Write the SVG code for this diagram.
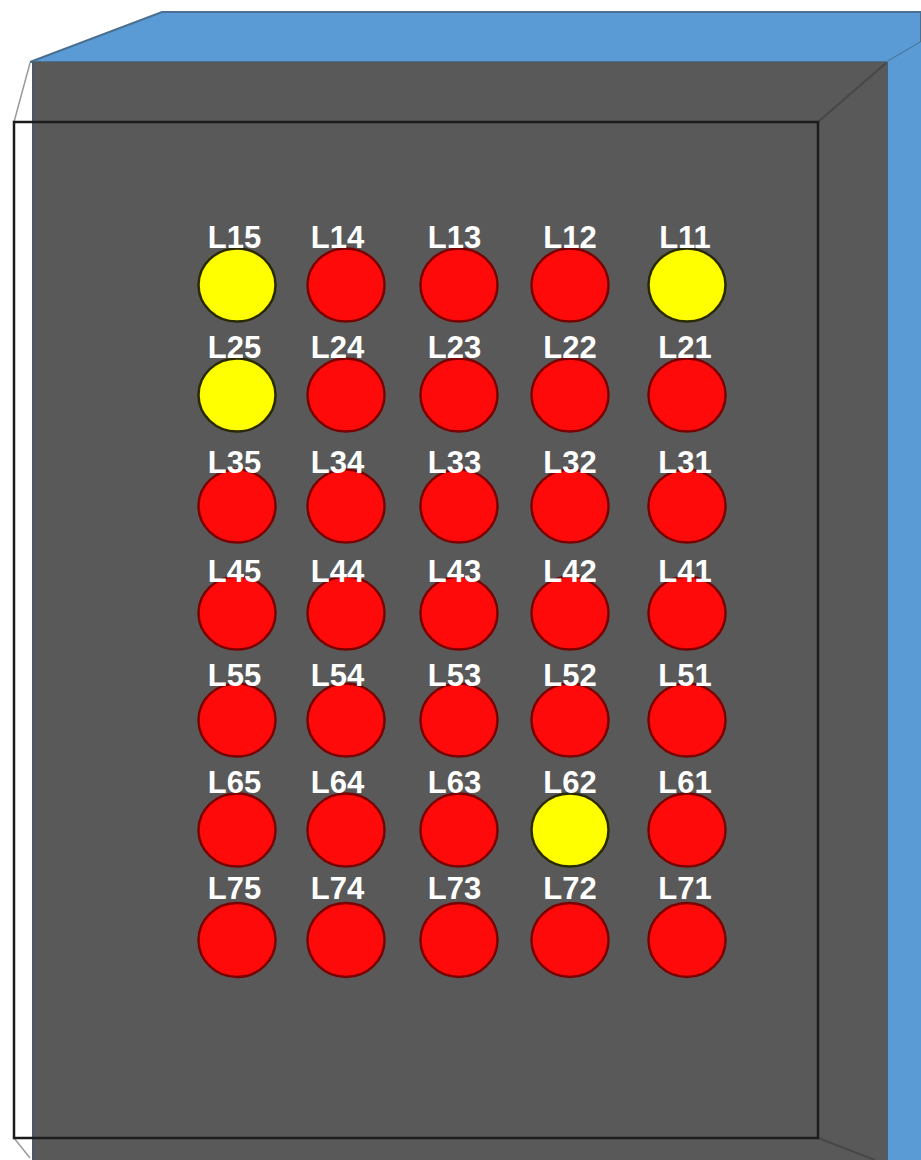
<svg xmlns="http://www.w3.org/2000/svg" width="921" height="1160" viewBox="0 0 921 1160">
  <defs>
    <style>
      .lbl { font-family: "Liberation Sans", Arial, sans-serif; font-weight: bold; font-size: 31px; fill: #ffffff; text-anchor: middle; }
      .red { fill: #ff0a0a; stroke: #7a0000; stroke-width: 2.5; }
      .yel { fill: #ffff00; stroke: #2a2a00; stroke-width: 2.5; }
      .edge { fill: none; stroke: #474747; stroke-width: 2; }
    </style>
  </defs>
  <rect x="0" y="0" width="921" height="1160" fill="#ffffff"/>
  <g id="cabinet">
    <polygon points="30,62 162,12 921,12 921,42 887,62" fill="#5b9bd5" stroke="#4a6f90" stroke-width="2"/>
    <polygon points="887,62 921,42 921,1160 887,1160" fill="#5b9bd5"/>
    <line x1="887" y1="62" x2="887" y2="1160" stroke="#3f5f80" stroke-width="2"/>
    <rect x="32" y="62" width="855" height="1098" fill="#595959"/>
    <line x1="33" y1="62" x2="33" y2="1160" stroke="#4c5866" stroke-width="2"/>
    <line class="edge" x1="818" y1="122" x2="886" y2="63"/>
    <line class="edge" x1="818" y1="1138" x2="875" y2="1160"/>
    <line x1="14" y1="122" x2="30" y2="63" stroke="#9a9a9a" stroke-width="1.5"/>
    <line x1="14" y1="1138" x2="30" y2="1158" stroke="#9a9a9a" stroke-width="1.5"/>
    <rect x="14" y="122" width="804" height="1016" fill="none" stroke="#1c1c1c" stroke-width="2.5"/>
  </g>
  <g id="lamps">
    <g id="L15"><ellipse class="yel" cx="237" cy="285" rx="38.5" ry="36.5"/><text class="lbl" x="234.5" y="248">L15</text></g>
    <g id="L14"><ellipse class="red" cx="346" cy="285" rx="38.5" ry="36.5"/><text class="lbl" x="337.5" y="248">L14</text></g>
    <g id="L13"><ellipse class="red" cx="459" cy="285" rx="38.5" ry="36.5"/><text class="lbl" x="454.5" y="248">L13</text></g>
    <g id="L12"><ellipse class="red" cx="570" cy="285" rx="38.5" ry="36.5"/><text class="lbl" x="570" y="248">L12</text></g>
    <g id="L11"><ellipse class="yel" cx="687" cy="285" rx="38.5" ry="36.5"/><text class="lbl" x="685" y="248">L11</text></g>

    <g id="L25"><ellipse class="yel" cx="237" cy="395" rx="38.5" ry="36.5"/><text class="lbl" x="234.5" y="358">L25</text></g>
    <g id="L24"><ellipse class="red" cx="346" cy="395" rx="38.5" ry="36.5"/><text class="lbl" x="337.5" y="358">L24</text></g>
    <g id="L23"><ellipse class="red" cx="459" cy="395" rx="38.5" ry="36.5"/><text class="lbl" x="454.5" y="358">L23</text></g>
    <g id="L22"><ellipse class="red" cx="570" cy="395" rx="38.5" ry="36.5"/><text class="lbl" x="570" y="358">L22</text></g>
    <g id="L21"><ellipse class="red" cx="687" cy="395" rx="38.5" ry="36.5"/><text class="lbl" x="685" y="358">L21</text></g>

    <g id="L35"><ellipse class="red" cx="237" cy="506" rx="38.5" ry="36.5"/><text class="lbl" x="234.5" y="473">L35</text></g>
    <g id="L34"><ellipse class="red" cx="346" cy="506" rx="38.5" ry="36.5"/><text class="lbl" x="337.5" y="473">L34</text></g>
    <g id="L33"><ellipse class="red" cx="459" cy="506" rx="38.5" ry="36.5"/><text class="lbl" x="454.5" y="473">L33</text></g>
    <g id="L32"><ellipse class="red" cx="570" cy="506" rx="38.5" ry="36.5"/><text class="lbl" x="570" y="473">L32</text></g>
    <g id="L31"><ellipse class="red" cx="687" cy="506" rx="38.5" ry="36.5"/><text class="lbl" x="685" y="473">L31</text></g>

    <g id="L45"><ellipse class="red" cx="237" cy="613" rx="38.5" ry="36.5"/><text class="lbl" x="234.5" y="582">L45</text></g>
    <g id="L44"><ellipse class="red" cx="346" cy="613" rx="38.5" ry="36.5"/><text class="lbl" x="337.5" y="582">L44</text></g>
    <g id="L43"><ellipse class="red" cx="459" cy="613" rx="38.5" ry="36.5"/><text class="lbl" x="454.5" y="582">L43</text></g>
    <g id="L42"><ellipse class="red" cx="570" cy="613" rx="38.5" ry="36.5"/><text class="lbl" x="570" y="582">L42</text></g>
    <g id="L41"><ellipse class="red" cx="687" cy="613" rx="38.5" ry="36.5"/><text class="lbl" x="685" y="582">L41</text></g>

    <g id="L55"><ellipse class="red" cx="237" cy="720" rx="38.5" ry="36.5"/><text class="lbl" x="234.5" y="686">L55</text></g>
    <g id="L54"><ellipse class="red" cx="346" cy="720" rx="38.5" ry="36.5"/><text class="lbl" x="337.5" y="686">L54</text></g>
    <g id="L53"><ellipse class="red" cx="459" cy="720" rx="38.5" ry="36.5"/><text class="lbl" x="454.5" y="686">L53</text></g>
    <g id="L52"><ellipse class="red" cx="570" cy="720" rx="38.5" ry="36.5"/><text class="lbl" x="570" y="686">L52</text></g>
    <g id="L51"><ellipse class="red" cx="687" cy="720" rx="38.5" ry="36.5"/><text class="lbl" x="685" y="686">L51</text></g>

    <g id="L65"><ellipse class="red" cx="237" cy="830" rx="38.5" ry="36.5"/><text class="lbl" x="234.5" y="793">L65</text></g>
    <g id="L64"><ellipse class="red" cx="346" cy="830" rx="38.5" ry="36.5"/><text class="lbl" x="337.5" y="793">L64</text></g>
    <g id="L63"><ellipse class="red" cx="459" cy="830" rx="38.5" ry="36.5"/><text class="lbl" x="454.5" y="793">L63</text></g>
    <g id="L62"><ellipse class="yel" cx="570" cy="830" rx="38.5" ry="36.5"/><text class="lbl" x="570" y="793">L62</text></g>
    <g id="L61"><ellipse class="red" cx="687" cy="830" rx="38.5" ry="36.5"/><text class="lbl" x="685" y="793">L61</text></g>

    <g id="L75"><ellipse class="red" cx="237" cy="940" rx="38.5" ry="37"/><text class="lbl" x="234.5" y="899">L75</text></g>
    <g id="L74"><ellipse class="red" cx="346" cy="940" rx="38.5" ry="37"/><text class="lbl" x="337.5" y="899">L74</text></g>
    <g id="L73"><ellipse class="red" cx="459" cy="940" rx="38.5" ry="37"/><text class="lbl" x="454.5" y="899">L73</text></g>
    <g id="L72"><ellipse class="red" cx="570" cy="940" rx="38.5" ry="37"/><text class="lbl" x="570" y="899">L72</text></g>
    <g id="L71"><ellipse class="red" cx="687" cy="940" rx="38.5" ry="37"/><text class="lbl" x="685" y="899">L71</text></g>
  </g>
  <g id="connectors"/>
</svg>
